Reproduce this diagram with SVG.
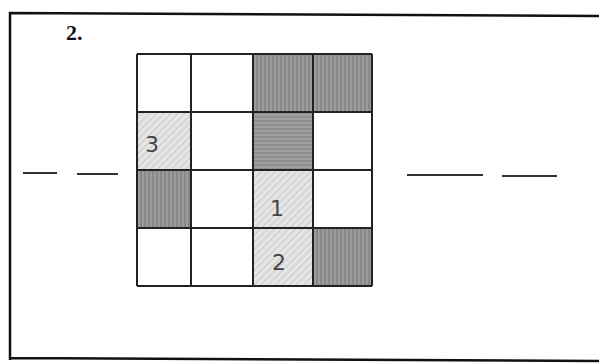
<svg xmlns="http://www.w3.org/2000/svg" width="599" height="364" viewBox="0 0 599 364">
<style>
.grid{stroke:#222;stroke-width:2;fill:none}
.dark{fill:url(#vh)}
.darkh{fill:url(#hh)}
.light{fill:url(#dh)}
.num{font-family:"DejaVu Sans",sans-serif;font-size:22px;fill:#444}
.dash{stroke:#333;stroke-width:2}
</style>
<defs>
<pattern id="vh" width="4" height="60" patternUnits="userSpaceOnUse">
<rect width="4" height="60" fill="#9c9c9c"/>
<line x1="1" y1="0" x2="1" y2="60" stroke="#7a7a7a" stroke-width="1.2"/>
</pattern>
<pattern id="hh" width="60" height="4" patternUnits="userSpaceOnUse">
<rect width="60" height="4" fill="#a0a0a0"/>
<line x1="0" y1="1" x2="60" y2="1" stroke="#7e7e7e" stroke-width="1.2"/>
</pattern>
<pattern id="dh" width="5" height="5" patternUnits="userSpaceOnUse" patternTransform="rotate(-45)">
<rect width="5" height="5" fill="#e6e6e6"/>
<line x1="0" y1="1" x2="5" y2="1" stroke="#c4c4c4" stroke-width="1"/>
</pattern>
</defs>
<rect x="0" y="0" width="599" height="364" fill="#fff"/>
<g id="frame">
<path d="M10,360 L10,13 L600,16 M10,358 L600,361" stroke="#111" stroke-width="2.5" fill="none"/>
</g>
<g id="label">
<text x="66" y="40" font-family="Liberation Serif,serif" font-weight="bold" font-size="22" fill="#111">2.</text>
</g>
<g id="grid">
<rect x="253" y="54" width="60" height="58" class="dark"/>
<rect x="313" y="54" width="59" height="58" class="dark"/>
<rect x="137" y="112" width="54" height="58" class="light"/>
<rect x="253" y="112" width="60" height="58" class="darkh"/>
<rect x="137" y="170" width="54" height="58" class="dark"/>
<rect x="253" y="170" width="60" height="58" class="light"/>
<rect x="253" y="228" width="60" height="58" class="light"/>
<rect x="313" y="228" width="59" height="58" class="dark"/>
<path class="grid" d="M137,54 H372 M137,112 H372 M137,170 H372 M137,228 H372 M137,286 H372 M137,54 V286 M191,54 V286 M253,54 V286 M313,54 V286 M372,54 V286"/>
<text class="num" x="145" y="152">3</text>
<text class="num" x="270" y="216">1</text>
<text class="num" x="272" y="270">2</text>
</g>
<g id="connectors">
<line class="dash" x1="23" y1="173" x2="57" y2="173"/>
<line class="dash" x1="77" y1="174" x2="118" y2="174"/>
<line class="dash" x1="407" y1="175" x2="483" y2="175"/>
<line class="dash" x1="502" y1="176" x2="557" y2="176"/>
</g>
</svg>
